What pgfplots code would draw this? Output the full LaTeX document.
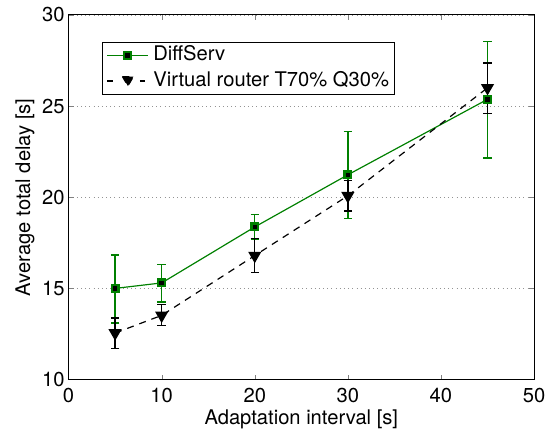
\documentclass[border=0pt]{standalone}
\usepackage{pgfplots}
\pgfplotsset{compat=1.18}
\usepackage{fontspec}
\setmainfont{TeX Gyre Heros}
\definecolor{mgreen}{rgb}{0,0.5,0}
\begin{document}
\fontsize{20.3}{24}\selectfont
\begin{tikzpicture}
\begin{axis}[
  name=ax,
  scale only axis, width=468.5pt, height=367pt,
  xmin=0, xmax=50, ymin=10, ymax=30,
  xtick={0,10,...,50}, ytick={10,15,...,30},
  tick align=inside, xtick pos=both, ytick pos=both,
  major tick length=5pt,
  ymajorgrids, grid style={dash pattern=on 0.8pt off 3.4pt, gray!85, line width=0.8pt},
  axis line style={line width=0.9pt},
  xlabel={Adaptation interval [s]}, ylabel={Average total delay [s]},
  /pgf/number format/assume math mode=true,
  tick label style={font=\fontsize{20.3}{24}\selectfont},
  label style={font=\fontsize{20.3}{24}\selectfont},
  yticklabel style={xshift=3pt},
  xticklabel style={yshift=-2pt},
  xlabel style={yshift=7pt},
  ylabel style={yshift=-6pt},
  legend style={at={(0.057,0.939)}, anchor=north west, xshift=7pt, yshift=-5pt,
    font=\fontsize{20.3}{24}\selectfont,
    draw=black, line width=0.9pt, inner xsep=4pt, inner ysep=2pt, row sep=3pt,
    nodes={inner sep=2pt, text height=14.5pt, text depth=4pt}},
  legend cell align=left,
]
\addplot[mgreen, line width=1.2pt, mark=square*, mark size=3.4pt,
  mark options={solid, fill=black, draw=mgreen, line width=2.3pt},
  legend image code/.code={
    \draw[mgreen, line width=1.2pt] (0pt,0pt) -- (41pt,0pt);
    \draw[fill=black, draw=mgreen, line width=2.3pt] (17.1pt,-3.4pt) rectangle (23.9pt,3.4pt);
    \path (44pt,0pt);
  },
  error bars/.cd, y dir=both, y explicit,
  error bar style={draw=mgreen, line width=1.3pt},
  error mark options={draw=mgreen, line width=1.3pt, mark size=4.2pt, rotate=90}]
coordinates {
 (5,15.0) += (0,1.83) -= (0,1.90)
 (10,15.3) += (0,1.02) -= (0,1.05)
 (20,18.37) += (0,0.69) -= (0,0.69)
 (30,21.23) += (0,2.36) -= (0,2.40)
 (45,25.37) += (0,3.19) -= (0,3.22)
};
\addlegendentry{DiffServ}
\addplot[black, line width=1.2pt, dash pattern=on 7pt off 6pt, mark=triangle*, mark size=6.5pt,
  mark options={solid, rotate=180, fill=black},
  legend image code/.code={
    \draw[black, line width=1.2pt] (0pt,0pt) -- (5.5pt,0pt);
    \draw[black, line width=1.2pt] (33pt,0pt) -- (38.5pt,0pt);
    \fill[black] (15.5pt,4.5pt) -- (26.5pt,4.5pt) -- (21pt,-5pt) -- cycle;
    \path (44pt,0pt);
  },
  error bars/.cd, y dir=both, y explicit,
  error bar style={draw=black, solid, line width=1.3pt},
  error mark options={draw=black, solid, line width=1.3pt, mark size=4.2pt, rotate=90}]
coordinates {
 (5,12.55) += (0,0.83) -= (0,0.84)
 (10,13.52) += (0,0.58) -= (0,0.56)
 (20,16.8) += (0,0.94) -= (0,0.93)
 (30,20.08) += (0,0.84) -= (0,0.83)
 (45,26.0) += (0,1.37) -= (0,1.4)
};
\addlegendentry{Virtual router T70\% Q30\%}
\end{axis}
\path[use as bounding box] ([xshift=-69pt,yshift=-52pt]ax.south west) rectangle ([xshift=14.5pt,yshift=15pt]ax.north east);
\end{tikzpicture}
\end{document}
